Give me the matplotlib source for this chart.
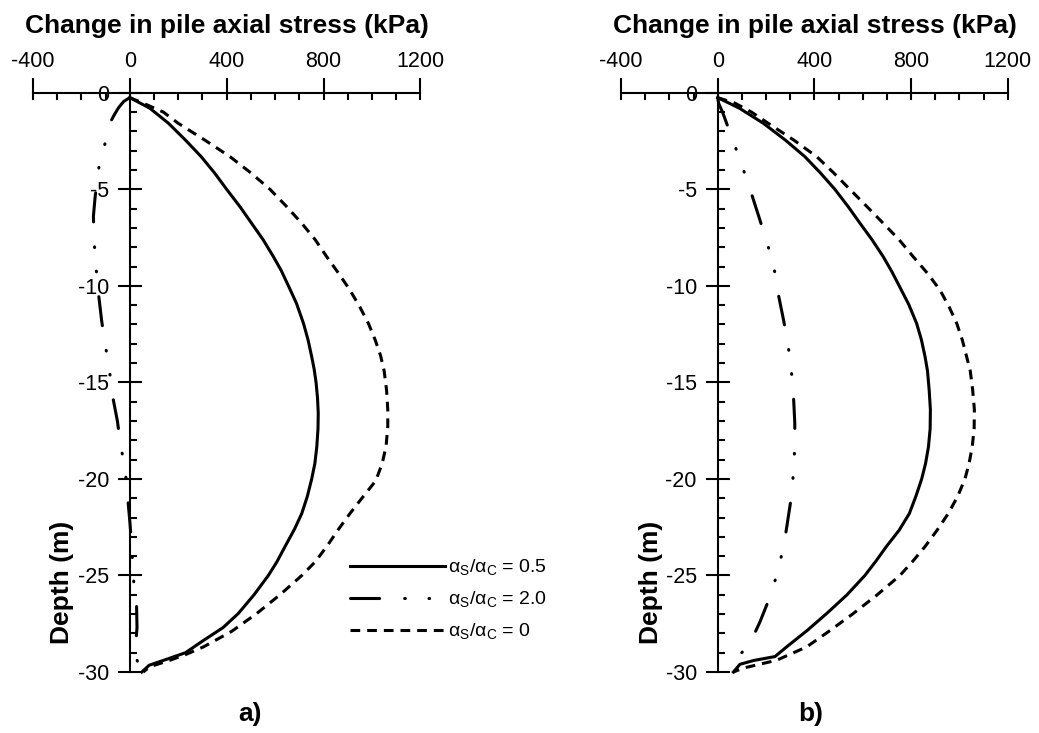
import matplotlib
matplotlib.use('Agg')
import matplotlib.pyplot as plt
from matplotlib.ticker import MultipleLocator

plt.rcParams['font.family'] = ['Liberation Sans', 'DejaVu Sans']
plt.rcParams['axes.unicode_minus'] = False
plt.rcParams['mathtext.fontset'] = 'custom'
plt.rcParams['mathtext.rm'] = 'Liberation Sans'
plt.rcParams['lines.scale_dashes'] = False

# ---- data: stress change (kPa) vs depth (m) ----
# panel a)
a_05_x = [0, 83, 160, 230, 295, 350, 400, 455, 503, 550, 593, 625, 655, 688, 717, 736, 751, 761, 769, 775,
          778, 777, 772, 764, 751, 733, 710, 680, 641, 607, 572, 513, 448, 385, 300, 230, 150, 80, 50]
a_05_y = [-0.25, -0.8, -1.58, -2.45, -3.31, -4.15, -5, -5.9, -6.76, -7.6, -8.49, -9.2, -10, -10.9, -11.94, -12.8,
          -13.67, -14.3, -15, -15.8, -16.6, -17.4, -18.34, -19.2, -20, -20.9, -21.79, -22.6, -23.5, -24.3, -25,
          -26, -26.97, -27.7, -28.4, -29.0, -29.35, -29.65, -30]
a_20_x = [0, -25, -45, -62, -75, -98, -125, -143, -150, -147, -139, -130, -116, -102, -85, -74, -51, -37, -19,
          -10, 1, 8, 14, 18, 28, 30, 22, 35, 55]
a_20_y = [-0.25, -0.45, -0.75, -1.1, -1.4, -2.45, -3.65, -5.4, -6.4, -7.7, -9.05, -10.3, -11.8, -13.0, -14.2,
          -15.5, -17.0, -18.3, -19.5, -20.75, -22.3, -23.5, -24.8, -25.6, -26.5, -27.7, -29.0, -29.6, -30]
a_00_x = [0, 56, 139, 200, 310, 414, 500, 579, 648, 710, 765, 813, 862, 909, 950, 985, 1013, 1035, 1050, 1060,
          1065, 1065, 1058, 1042, 1015, 958, 909, 862, 813, 765, 710, 620, 524, 420, 304, 230, 166, 82, 56]
a_00_y = [-0.25, -0.54, -1.0, -1.58, -2.45, -3.31, -4.15, -5, -5.9, -6.76, -7.6, -8.49, -9.35, -10.22, -11.1,
          -11.94, -12.8, -13.6, -14.4, -15.4, -16.4, -17.3, -18.3, -19.2, -20.1, -21.0, -21.79, -22.6, -23.5,
          -24.3, -25, -26, -26.97, -27.9, -28.7, -29.1, -29.39, -29.73, -30]

# panel b)
b_05_x = [0, 90, 189, 280, 361, 425, 485, 540, 589, 638, 685, 720, 751, 790, 823, 843, 858, 868, 875, 880,
          879, 872, 860, 844, 820, 793, 751, 698, 655, 609, 535, 451, 370, 285, 237, 150, 92, 65]
b_05_y = [-0.25, -0.8, -1.58, -2.45, -3.31, -4.15, -5, -5.9, -6.76, -7.6, -8.49, -9.25, -10, -10.95, -11.94,
          -12.8, -13.67, -14.4, -15.4, -16.4, -17.4, -18.34, -19.2, -20, -20.9, -21.79, -22.65, -23.5, -24.25,
          -25, -26, -26.97, -27.85, -28.7, -29.2, -29.4, -29.6, -30]
b_20_x = [0, 4, 20, 37, 69, 103, 134, 175, 204, 232, 247, 273, 290, 303, 312, 319, 319, 314, 307, 288, 273,
          250, 223, 175, 134, 72, 60]
b_20_y = [-0.25, -0.55, -1.0, -1.58, -2.67, -3.86, -5.0, -6.6, -7.75, -8.96, -10.2, -11.8, -12.95, -14.2,
          -15.3, -17.1, -18.3, -19.5, -20.75, -22.3, -23.5, -24.7, -25.9, -27.4, -28.5, -29.4, -30]
b_00_x = [0, 72, 140, 209, 315, 410, 480, 547, 618, 685, 750, 809, 868, 920, 958, 989, 1012, 1030, 1045, 1055,
          1062, 1061, 1053, 1040, 1023, 993, 954, 908, 858, 808, 754, 660, 561, 465, 368, 244, 105, 65]
b_00_y = [-0.25, -0.54, -1.0, -1.58, -2.45, -3.31, -4.15, -5, -5.9, -6.76, -7.6, -8.49, -9.35, -10.22, -11.1,
          -11.94, -12.8, -13.67, -14.4, -15.4, -16.4, -17.4, -18.34, -19.2, -20, -20.9, -21.79, -22.65, -23.5,
          -24.25, -25, -26, -26.97, -27.85, -28.7, -29.39, -29.8, -30]

labels = [r'α$_\mathrm{S}$/α$_\mathrm{C}$ = 0.5',
          r'α$_\mathrm{S}$/α$_\mathrm{C}$ = 2.0',
          r'α$_\mathrm{S}$/α$_\mathrm{C}$ = 0']
x_ticks = [-400, 0, 400, 800, 1200]
y_ticks = [0, -5, -10, -15, -20, -25, -30]

dashdotdot = (0, (21, 18, 0.5, 17, 0.5, 18))
dashed = (0, (7, 5))

fig = plt.figure(figsize=(10.39, 7.33), dpi=100)
ax_a = fig.add_axes([0.0316, 0.0832, 0.3731, 0.7902])
ax_b = fig.add_axes([0.5977, 0.0832, 0.3722, 0.7902])


def setup(ax):
    ax.set_xlim(-400, 1200)
    ax.set_ylim(-30, 0)
    ax.spines['right'].set_visible(False)
    ax.spines['bottom'].set_visible(False)
    ax.spines['left'].set_position(('data', 0))
    for s in ('top', 'left'):
        ax.spines[s].set_linewidth(1.5)
    ax.xaxis.tick_top()
    ax.set_xticks(x_ticks)
    ax.set_xticklabels([str(v) for v in x_ticks])
    ax.xaxis.set_minor_locator(MultipleLocator(100))
    ax.xaxis.remove_overlapping_locs = False
    ax.set_yticks(y_ticks)
    ax.set_yticklabels([str(v) for v in y_ticks])
    ax.yaxis.set_minor_locator(MultipleLocator(1))
    ax.tick_params(axis='x', which='major', direction='out', length=10.8, width=1.5,
                   labelsize=15.5, pad=4.5)
    ax.tick_params(axis='x', which='minor', direction='in', length=5, width=1.5)
    ax.tick_params(axis='y', which='major', direction='inout', length=17, width=1.5,
                   labelsize=15.5, pad=6.5)
    ax.tick_params(axis='y', which='minor', direction='in', length=5, width=1.5)
    ax.patch.set_visible(False)


def draw(ax, x05, y05, x20, y20, x00, y00):
    ax.plot(x05, y05, color='black', lw=2.2, label=labels[0], clip_on=False)
    ax.plot(x20, y20, color='black', lw=2.2, linestyle=dashdotdot,
            dash_capstyle='round', label=labels[1], clip_on=False)
    ax.plot(x00, y00, color='black', lw=2.2, linestyle=dashed, label=labels[2], clip_on=False)


setup(ax_a)
setup(ax_b)
draw(ax_a, a_05_x, a_05_y, a_20_x, a_20_y, a_00_x, a_00_y)
draw(ax_b, b_05_x, b_05_y, b_20_x, b_20_y, b_00_x, b_00_y)

ax_a.legend(loc='upper left', bbox_to_anchor=(0.3369, 0.2394), bbox_transform=fig.transFigure,
            frameon=False, fontsize=14, handlelength=4.9, handletextpad=0.15,
            labelspacing=0.6, borderpad=0, borderaxespad=0)

title = 'Change in pile axial stress (kPa)'
fig.text(227 / 1039, 0.9543, title, ha='center', va='baseline', fontsize=19, fontweight='bold')
fig.text(815 / 1039, 0.9543, title, ha='center', va='baseline', fontsize=19, fontweight='bold')
fig.text(62.5 / 1039, 0.206, 'Depth (m)', rotation=90, ha='center', va='center',
         fontsize=19, fontweight='bold')
fig.text(651 / 1039, 0.206, 'Depth (m)', rotation=90, ha='center', va='center',
         fontsize=19, fontweight='bold')
fig.text(250 / 1039, 0.0157, 'a)', ha='center', va='baseline', fontsize=19, fontweight='bold')
fig.text(811 / 1039, 0.0157, 'b)', ha='center', va='baseline', fontsize=19, fontweight='bold')

fig.savefig('out.png', dpi=100)
